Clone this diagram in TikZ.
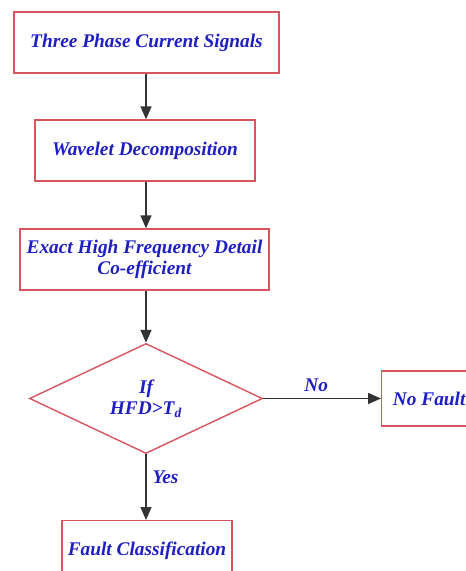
\documentclass[tikz,border=0pt]{standalone}
\usepackage{fontspec}
\setmainfont{Liberation Serif}
\usepackage{xcolor}
\usepackage{tikz}
\usetikzlibrary{shapes.geometric, arrows.meta, positioning}
\definecolor{boxline}{RGB}{215,85,95}
\definecolor{boxtext}{RGB}{30,30,195}
\tikzset{
    box/.style={rectangle, minimum height=1.22cm, text centered, draw=boxline, thick, align=center, font=\bfseries\itshape\fontsize{11}{12}\selectfont, text=boxtext},
    decision/.style={diamond, minimum width=4.66cm, minimum height=2.18cm, inner sep=0pt, text centered, draw=boxline, thick, align=center, font=\bfseries\itshape\fontsize{11}{12}\selectfont, text=boxtext},
    flow/.style={-{Triangle[length=2.6mm, width=2.2mm]}, line width=0.9pt, draw=black!80},
    tag/.style={font=\bfseries\itshape\fontsize{11}{12}\selectfont, text=boxtext}
}
\begin{document}
\begin{tikzpicture}
    \useasboundingbox (0,0) rectangle (9.32,-11.42);
    \clip (0,0) rectangle (9.32,-11.42);
    % Steps
    \node[box, minimum width=5.3cm] (signals) at (2.93,-0.85) {Three Phase Current Signals};
    \node[box, minimum width=4.4cm] (wavelet) at (2.9,-3.01) {Wavelet Decomposition};
    \node[box, minimum width=4.98cm] (detail) at (2.89,-5.19) {Exact High Frequency Detail\\Co-efficient};
    \node[decision] (check) at (2.92,-7.97) {If\\HFD\textgreater T\textsubscript{d}};
    \node[box, minimum width=1.9cm, minimum height=1.1cm, anchor=west] (nofault) at (7.62,-7.97) {No Fault};
    \node[box, minimum width=3.36cm, anchor=north] (classify) at (2.94,-10.4) {Fault Classification};
    
    % Arrows
    \draw[flow] (signals.south -| check.north) -- (wavelet.north -| check.north);
    \draw[flow] (wavelet.south -| check.north) -- (detail.north -| check.north);
    \draw[flow] (detail.south -| check.north) -- (check.north);
    \draw[flow] (check.east) -- (nofault.west) node[tag, pos=0.45, above] {No};
    \draw[flow] (check.south) -- (check.south |- classify.north) node[tag, pos=0.35, right] {Yes};
\end{tikzpicture}
\end{document}
